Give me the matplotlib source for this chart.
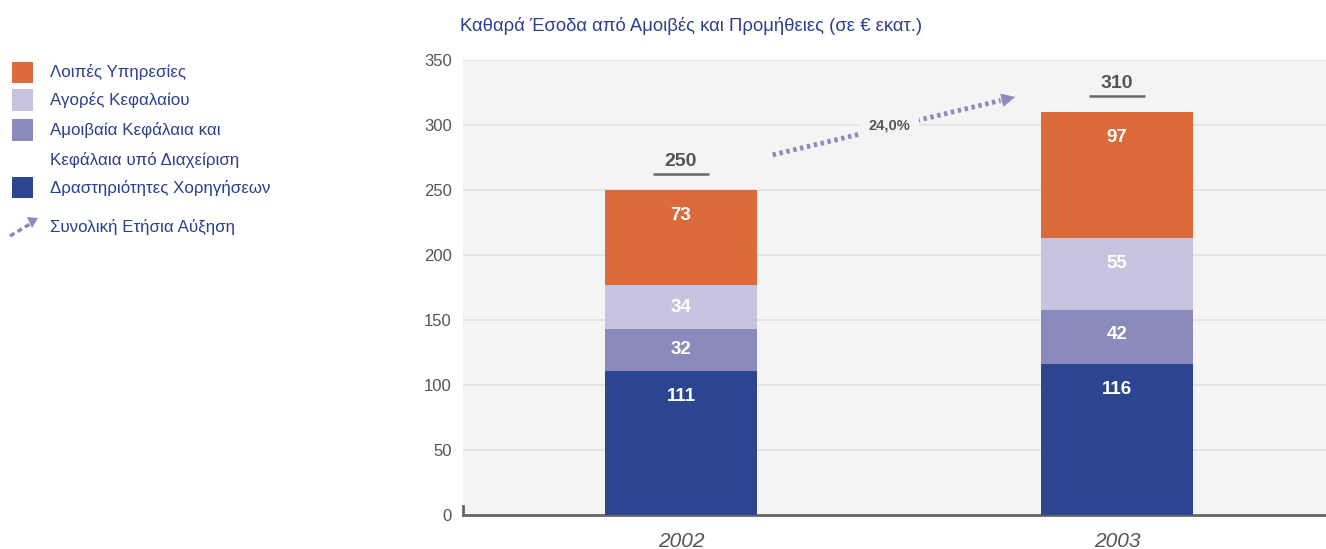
import matplotlib.pyplot as plt
from matplotlib.patches import Rectangle
import numpy as np

plt.rcParams['font.family'] = ['Liberation Sans', 'DejaVu Sans']

# δεδομένα
years = ['2002', '2003']
series_names = ['Δραστηριότητες Χορηγήσεων',
                'Αμοιβαία Κεφάλαια και\nΚεφάλαια υπό Διαχείριση',
                'Αγορές Κεφαλαίου',
                'Λοιπές Υπηρεσίες']
loans = [111, 116]
mutual_funds = [32, 42]
capital_markets = [34, 55]
other_services = [73, 97]
totals = [250, 310]
colors = ['#2b4590', '#8b8abd', '#c7c4e0', '#dc6b3c']

title = 'Καθαρά Έσοδα από Αμοιβές και Προμήθειες (σε € εκατ.)'
arrow_label = 'Συνολική Ετήσια Αύξηση'
text_blue = '#2d3f8f'
grey = '#555555'
arrow_col = '#8b8abd'

W, H = 1326, 549
fig = plt.figure(figsize=(W / 100, H / 100), dpi=100)
ax = fig.add_axes([463 / W, 1 - 515 / H, 1 - 463 / W, (515 - 60) / H])
ax.set_facecolor('#f4f4f4')

x = np.arange(len(years))
width = 0.35
bottom = np.zeros(len(years))
for vals, col in zip([loans, mutual_funds, capital_markets, other_services], colors):
    vals = np.array(vals)
    ax.bar(x, vals, width, bottom=bottom, color=col, zorder=3)
    for xi, b, v in zip(x, bottom, vals):
        ylab = b + v - min(v / 2, 19.5)
        ax.text(xi, ylab, str(v), ha='center', va='center', color='white',
                fontsize=13.5, fontweight='bold', zorder=4)
    bottom += vals

# σύνολα με υπογράμμιση
for xi, t in zip(x, totals):
    ax.text(xi, t + 22, str(t), ha='center', va='center', color=grey,
            fontsize=14, fontweight='bold', zorder=4)
    ax.plot([xi - 0.065, xi + 0.065], [t + 12.5, t + 12.5], color='#666666',
            lw=1.8, zorder=4, solid_capstyle='butt')

# βέλος αύξησης
growth = (totals[1] - totals[0]) / totals[0] * 100
x0, y0 = x[0] + 0.21, totals[0] + 27
x1, y1 = x[1] - 0.234, totals[1] + 11.5
xa, ya = x0 + (x1 - x0) * 0.94, y0 + (y1 - y0) * 0.94
ax.plot([x0, xa], [y0, ya], color=arrow_col, lw=3.5, linestyle=(0, (0.7, 0.75)),
        zorder=4, dash_capstyle='butt')
ax.annotate('', xy=(x1, y1), xytext=(xa, ya),
            arrowprops=dict(arrowstyle='-|>,head_length=0.9,head_width=0.45',
                            color=arrow_col, lw=0.5, shrinkA=0, shrinkB=0),
            zorder=4)
ax.text((x0 + x1) / 2 - 0.01, (y0 + y1) / 2, f'{growth:.1f}%'.replace('.', ','),
        ha='center', va='center', color=grey, fontsize=10.5, fontweight='bold',
        bbox=dict(facecolor='#f4f4f4', edgecolor='none', pad=6), zorder=5)

ax.set_xlim(-0.5, 1.479)
ax.set_ylim(0, 350)
ax.set_yticks(np.arange(0, 351, 50))
ax.yaxis.grid(True, color='#e0e0e0', lw=1.2, zorder=0)
ax.set_xticks(x)
ax.set_xticklabels(years, fontstyle='italic', fontsize=15, color=grey)
ax.tick_params(axis='x', length=0, pad=12)
ax.tick_params(axis='y', length=0, pad=8, labelsize=12, labelcolor=grey)
for s in ['top', 'right', 'left']:
    ax.spines[s].set_visible(False)
ax.spines['bottom'].set_color('#666666')
ax.spines['bottom'].set_linewidth(2)
ax.plot([0, 0], [0, 0.02], transform=ax.transAxes, color='#666666', lw=2,
        clip_on=False, zorder=5)

fig.text(460 / W, 1 - 26 / H, title, color=text_blue, fontsize=13.3,
         va='center', ha='left')

# υπόμνημα (χειροποίητο)
legend_rows = [72, 100, 130, 188]
for ypix, name, col in zip(legend_rows, series_names[::-1], colors[::-1]):
    fig.add_artist(Rectangle((12 / W, 1 - (ypix + 10.5) / H), 21 / W, 21 / H,
                             transform=fig.transFigure, facecolor=col,
                             edgecolor='none'))
    if '\n' in name:
        first, second = name.split('\n')
        fig.text(50 / W, 1 - ypix / H, first, color=text_blue, fontsize=12.2,
                 va='center', ha='left')
        fig.text(50 / W, 1 - (ypix + 30) / H, second, color=text_blue,
                 fontsize=12.2, va='center', ha='left')
    else:
        fig.text(50 / W, 1 - ypix / H, name, color=text_blue, fontsize=12.2,
                 va='center', ha='left')
fig.add_artist(plt.Line2D([10 / W, 30 / W], [1 - 236 / H, 1 - 224 / H],
                          transform=fig.transFigure, color=arrow_col,
                          lw=2.5, linestyle=(0, (1.5, 1))))
fig.add_artist(plt.Polygon([[27 / W, 1 - 217 / H], [38 / W, 1 - 218 / H],
                            [32 / W, 1 - 228 / H]], closed=True,
                           transform=fig.transFigure, facecolor=arrow_col,
                           edgecolor='none'))
fig.text(50 / W, 1 - 227 / H, arrow_label, color=text_blue, fontsize=12.2,
         va='center', ha='left')

fig.savefig('out.png', dpi=100, facecolor='white')
